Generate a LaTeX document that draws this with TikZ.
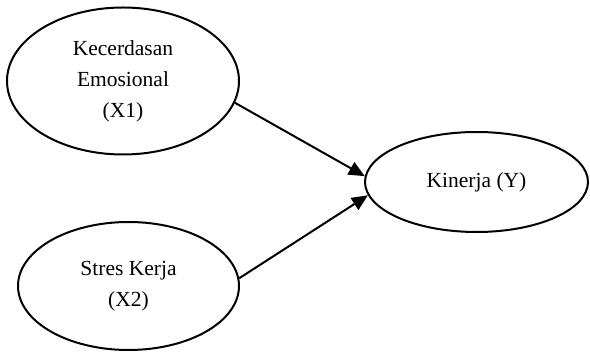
\documentclass[tikz,border=0pt]{standalone}
\usepackage{fontspec}
\setmainfont{Liberation Serif}
\usepackage{tikz}
\usetikzlibrary{shapes.geometric,arrows.meta}

\begin{document}
\begin{tikzpicture}[x=1pt, y=-1pt, main/.style = {draw, ellipse, line width=2pt, inner sep=0pt, align=center, font=\fontsize{21.5}{31}\selectfont}, link/.style = {line width=2pt, -{Triangle[length=16pt,width=14pt]}}]
\useasboundingbox (0,0) rectangle (590,352);
\node[main, minimum width=232, minimum height=147] (x1) at (123,81) {Kecerdasan\\Emosional\\(X1)};
\node[main, minimum width=221, minimum height=128] (x2) at (128.5,286) {Stres Kerja\\(X2)};
\node[main, minimum width=223, minimum height=100] (y) at (476.5,182) {Kinerja (Y)};

\draw[link] (x1.-11) -- (y.177);
\draw[link] (x2.4) -- (y.-173);
\end{tikzpicture}
\end{document}
